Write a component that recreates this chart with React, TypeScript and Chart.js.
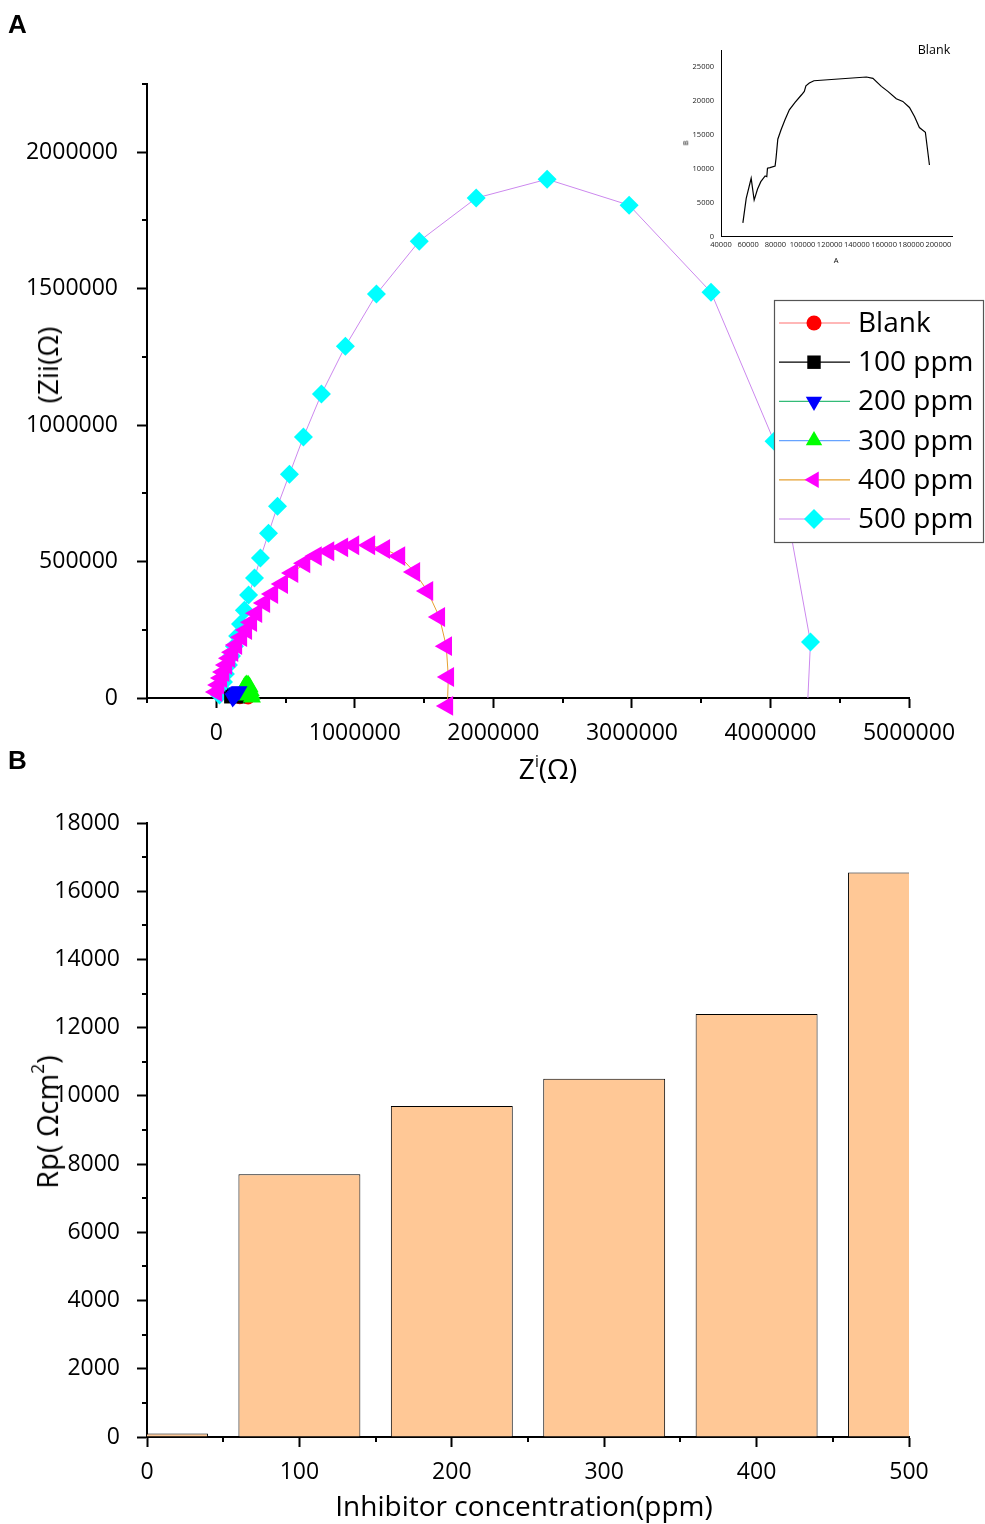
import React, { useEffect, useRef } from 'react';
import { Chart, registerables } from 'chart.js';

Chart.register(...registerables);

const FONT = "'Open Sans', 'DejaVu Sans', sans-serif";

// ---------------- Panel A: Nyquist data (Z' , Z'') ----------------
const seriesNames = ['Blank', '100 ppm', '200 ppm', '300 ppm', '400 ppm', '500 ppm'];

const blankRe = [170000, 180000, 195000, 210000, 222000, 230000];
const blankIm = [1000, 5000, 8000, 7000, 3000, 0];

const ppm100Re = [100000, 110000, 122000, 135000, 148000, 158000, 165000];
const ppm100Im = [2000, 8000, 13000, 16000, 14000, 8000, 2000];

const ppm200Re = [118000, 126000, 134000, 142000, 150000, 158000, 166000];
const ppm200Im = [0, 4000, 9000, 15000, 20000, 24000, 26000];

const ppm300Re = [188000, 193000, 200000, 210000, 220000, 230000, 240000, 248000, 254000, 257000];
const ppm300Im = [10000, 25000, 37000, 45000, 48000, 47000, 40000, 27000, 13000, 3000];

const ppm400Re = [1000, 17000, 37000, 52000, 73000, 95000, 117000, 145000, 181000, 217000, 253000, 290000, 347000, 405000, 476000, 550000, 637000, 720000, 810000, 910000, 990000, 1105000, 1213000, 1322000, 1430000, 1524000, 1610000, 1660000, 1675000, 1668000];
const ppm400Im = [22000, 48000, 73000, 95000, 121000, 146000, 168000, 194000, 223000, 249000, 278000, 311000, 348000, 381000, 418000, 458000, 494000, 520000, 538000, 552000, 560000, 560000, 546000, 520000, 462000, 392000, 297000, 190000, 77000, -29000];

const ppm500Re = [23000, 38000, 52000, 66000, 88000, 110000, 131000, 154000, 175000, 203000, 233000, 276000, 319000, 377000, 442000, 528000, 629000, 759000, 932000, 1156000, 1465000, 1876000, 2388000, 2980000, 3571000, 4026000, 4289000, 4270000];
const ppm500Im = [11000, 33000, 59000, 88000, 121000, 154000, 190000, 227000, 271000, 322000, 377000, 440000, 513000, 604000, 703000, 820000, 956000, 1114000, 1289000, 1480000, 1674000, 1832000, 1901000, 1806000, 1487000, 941000, 205000, 0];

const aXTicks = [0, 1000000, 2000000, 3000000, 4000000, 5000000];
const aXLabels = ['0', '1000000', '2000000', '3000000', '4000000', '5000000'];
const aXMinor = [-500000, 500000, 1500000, 2500000, 3500000, 4500000];
const aYTicks = [0, 500000, 1000000, 1500000, 2000000];
const aYLabels = ['0', '500000', '1000000', '1500000', '2000000'];
const aYMinor = [250000, 750000, 1250000, 1750000, 2250000];

// ---------------- Inset (Blank) ----------------
const insetA = [56100, 58560, 62200, 64400, 66900, 69300, 72500, 73700, 74200, 76100, 79800, 80500, 81800, 84200, 87100, 90300, 94500, 99300, 101300, 102500, 105000, 108400, 147000, 151800, 158000, 162800, 169000, 173800, 178700, 182400, 186000, 190400, 193400];
const insetB = [2020, 5620, 8580, 5370, 7000, 8085, 8920, 8820, 10060, 10150, 10400, 11540, 14350, 15730, 17200, 18680, 19770, 20900, 21400, 22230, 22630, 22970, 23520, 23320, 22140, 21400, 20310, 19920, 19030, 17700, 16070, 15380, 10550];
const insetXTicks = [40000, 60000, 80000, 100000, 120000, 140000, 160000, 180000, 200000];
const insetYTicks = [0, 5000, 10000, 15000, 20000, 25000];

// ---------------- Panel B: Rp bars ----------------
const concCategories = [0, 100, 200, 300, 400, 500];
const rpValues = [100, 7700, 9700, 10500, 12400, 16550];
const bXTicks = [0, 100, 200, 300, 400, 500];
const bXMinor = [50, 150, 250, 350, 450];
const bYTicks = [0, 2000, 4000, 6000, 8000, 10000, 12000, 14000, 16000, 18000];
const bYMinor = [1000, 3000, 5000, 7000, 9000, 11000, 13000, 15000, 17000];

// ---------------- styles ----------------
const seriesStyles = [
  { marker: '#ff0000', line: '#ff7070', style: 'circle', rot: 0, r: 6.5, lr: 7.5, order: 4 },
  { marker: '#000000', line: '#000000', style: 'rect', rot: 0, r: 8.5, lr: 9.5, order: 3 },
  { marker: '#0000ff', line: '#33bb77', style: 'triangle', rot: 180, r: 9.5, lr: 9.5, order: 1 },
  { marker: '#00ff00', line: '#66a3ff', style: 'triangle', rot: 0, r: 10.5, lr: 9.5, order: 2 },
  { marker: '#ff00ff', line: '#e6a030', style: 'triangle', rot: 270, r: 11.5, lr: 9.5, order: 5 },
  { marker: '#00ffff', line: '#cc88ee', style: 'rectRot', rot: 0, r: 9.5, lr: 10, order: 6 },
];

function drawMarker(ctx: CanvasRenderingContext2D, style: string, x: number, y: number, r: number, rot: number, fill: string) {
  ctx.save();
  ctx.translate(x, y);
  ctx.rotate((rot * Math.PI) / 180);
  ctx.beginPath();
  if (style === 'circle') {
    ctx.arc(0, 0, r, 0, Math.PI * 2);
  } else if (style === 'rect') {
    const s = r * Math.SQRT1_2;
    ctx.rect(-s, -s, 2 * s, 2 * s);
  } else if (style === 'triangle') {
    ctx.moveTo(0, -r);
    ctx.lineTo(r * Math.sin((2 * Math.PI) / 3), -r * Math.cos((2 * Math.PI) / 3));
    ctx.lineTo(r * Math.sin((4 * Math.PI) / 3), -r * Math.cos((4 * Math.PI) / 3));
  } else {
    ctx.moveTo(-r, 0);
    ctx.lineTo(0, -r);
    ctx.lineTo(r, 0);
    ctx.lineTo(0, r);
  }
  ctx.closePath();
  ctx.fillStyle = fill;
  ctx.fill();
  ctx.restore();
}

function minorTicks(id: string, xMinor: number[], yMinor: number[], len: number) {
  return {
    id,
    afterDraw(chart: any) {
      const ctx = chart.ctx as CanvasRenderingContext2D;
      const { left, bottom } = chart.chartArea;
      ctx.save();
      ctx.strokeStyle = '#000';
      ctx.lineWidth = 2;
      ctx.beginPath();
      xMinor.forEach((v) => {
        const px = Math.round(chart.scales.x.getPixelForValue(v));
        ctx.moveTo(px, bottom);
        ctx.lineTo(px, bottom + len);
      });
      yMinor.forEach((v) => {
        const py = Math.round(chart.scales.y.getPixelForValue(v));
        ctx.moveTo(left, py);
        ctx.lineTo(left - len, py);
      });
      ctx.stroke();
      ctx.restore();
    },
  };
}

const legendBox = { x: 774, y: 300, w: 209, h: 242, row0: 23, rowGap: 39.2 };

const legendPlugin = {
  id: 'nyquistLegend',
  afterDraw(chart: any) {
    const ctx = chart.ctx as CanvasRenderingContext2D;
    const b = legendBox;
    ctx.save();
    ctx.fillStyle = '#fff';
    ctx.fillRect(b.x, b.y, b.w, b.h);
    ctx.strokeStyle = '#555';
    ctx.lineWidth = 1.2;
    ctx.strokeRect(b.x + 0.5, b.y + 0.5, b.w, b.h);
    seriesNames.forEach((name, i) => {
      const st = seriesStyles[i];
      const y = b.y + b.row0 + i * b.rowGap;
      ctx.strokeStyle = st.line;
      ctx.lineWidth = 1.2;
      ctx.beginPath();
      ctx.moveTo(b.x + 5, y);
      ctx.lineTo(b.x + 76, y);
      ctx.stroke();
      drawMarker(ctx, st.style, b.x + 40, y, st.lr, st.rot, st.marker);
      ctx.fillStyle = '#000';
      ctx.font = `28px ${FONT}`;
      ctx.textBaseline = 'middle';
      ctx.textAlign = 'left';
      ctx.fillText(name, b.x + 84, y + 1);
    });
    ctx.restore();
  },
};

function makeSeries(i: number, re: number[], im: number[]) {
  const st = seriesStyles[i];
  return {
    label: seriesNames[i],
    data: re.map((x, k) => ({ x, y: im[k] })),
    borderColor: st.line,
    borderWidth: 1,
    backgroundColor: st.marker,
    pointStyle: st.style,
    pointRotation: st.rot,
    pointRadius: re.map((_x, k) => (i === 5 && k === re.length - 1 ? 0 : st.r)),
    pointBackgroundColor: st.marker,
    pointBorderWidth: 0,
    pointBorderColor: st.marker,
    tension: 0,
    clip: false,
    order: st.order,
  };
}

const tickFont = { family: FONT, size: 23 };

export default function App() {
  const refA = useRef<HTMLCanvasElement>(null);
  const refB = useRef<HTMLCanvasElement>(null);
  const refI = useRef<HTMLCanvasElement>(null);

  useEffect(() => {
    const chartA = new Chart(refA.current as HTMLCanvasElement, {
      type: 'line',
      data: {
        datasets: [
          makeSeries(0, blankRe, blankIm),
          makeSeries(1, ppm100Re, ppm100Im),
          makeSeries(2, ppm200Re, ppm200Im),
          makeSeries(3, ppm300Re, ppm300Im),
          makeSeries(4, ppm400Re, ppm400Im),
          makeSeries(5, ppm500Re, ppm500Im),
        ] as any,
      },
      options: {
        animation: false,
        responsive: false,
        maintainAspectRatio: false,
        layout: { padding: { left: 0, top: 84, right: 76, bottom: 0 } },
        plugins: { legend: { display: false }, tooltip: { enabled: false }, title: { display: false } },
        events: [],
        scales: {
          x: {
            type: 'linear',
            min: -500000,
            max: 5000000,
            afterBuildTicks: (s: any) => { s.ticks = aXTicks.map((v) => ({ value: v })); },
            afterFit: (s: any) => { s.height = 92; },
            grid: { drawOnChartArea: false, drawTicks: true, tickLength: 10, tickWidth: 2, tickColor: '#000', color: '#000' },
            border: { display: true, color: '#000', width: 2 },
            ticks: { autoSkip: false, maxRotation: 0, padding: 12, color: '#000', font: tickFont, callback: (_v: any, i: number) => aXLabels[i] },
          },
          y: {
            type: 'linear',
            min: 0,
            max: 2250000,
            afterBuildTicks: (s: any) => { s.ticks = aYTicks.map((v) => ({ value: v })); },
            afterFit: (s: any) => { s.width = 147; },
            grid: { drawOnChartArea: false, drawTicks: true, tickLength: 10, tickWidth: 2, tickColor: '#000', color: '#000' },
            border: { display: true, color: '#000', width: 2 },
            ticks: { autoSkip: false, padding: 19, color: '#000', font: tickFont, callback: (_v: any, i: number) => aYLabels[i] },
          },
        },
      } as any,
      plugins: [minorTicks('minorA', aXMinor, aYMinor, 5), legendPlugin],
    });

    const chartI = new Chart(refI.current as HTMLCanvasElement, {
      type: 'line',
      data: {
        datasets: [
          {
            label: 'Blank',
            data: insetA.map((x, k) => ({ x, y: insetB[k] })),
            borderColor: '#000',
            borderWidth: 1.2,
            pointRadius: 0,
            tension: 0,
          },
        ],
      },
      options: {
        animation: false,
        responsive: false,
        maintainAspectRatio: false,
        layout: { padding: { left: 0, top: 15, right: 18, bottom: 0 } },
        plugins: { legend: { display: false }, tooltip: { enabled: false } },
        events: [],
        scales: {
          x: {
            type: 'linear',
            min: 40000,
            max: 210000,
            afterBuildTicks: (s: any) => { s.ticks = insetXTicks.map((v) => ({ value: v })); },
            afterFit: (s: any) => { s.height = 38.5; },
            grid: { display: false, drawTicks: false },
            border: { display: true, color: '#000', width: 1 },
            ticks: { autoSkip: false, maxRotation: 0, padding: 4, color: '#222', font: { family: FONT, size: 7.5 }, callback: (v: any) => String(v) },
          },
          y: {
            type: 'linear',
            min: 0,
            max: 27500,
            afterBuildTicks: (s: any) => { s.ticks = insetYTicks.map((v) => ({ value: v })); },
            afterFit: (s: any) => { s.width = 61; },
            grid: { display: false, drawTicks: false },
            border: { display: true, color: '#000', width: 1 },
            ticks: { autoSkip: false, padding: 7, color: '#222', font: { family: FONT, size: 7.5 }, callback: (v: any) => String(v) },
          },
        },
      } as any,
    });

    const chartB = new Chart(refB.current as HTMLCanvasElement, {
      type: 'bar',
      data: {
        datasets: [
          {
            label: 'Rp',
            data: concCategories.map((x, k) => ({ x, y: rpValues[k] })),
            backgroundColor: '#ffc896',
            borderColor: '#000',
            borderWidth: 1,
            barPercentage: 0.8,
            categoryPercentage: 1,
          },
        ] as any,
      },
      options: {
        animation: false,
        responsive: false,
        maintainAspectRatio: false,
        layout: { padding: { left: 0, top: 33, right: 76, bottom: 0 } },
        plugins: { legend: { display: false }, tooltip: { enabled: false } },
        events: [],
        scales: {
          x: {
            type: 'linear',
            min: 0,
            max: 500,
            offset: false,
            afterBuildTicks: (s: any) => { s.ticks = bXTicks.map((v) => ({ value: v })); },
            afterFit: (s: any) => { s.height = 87; },
            grid: { offset: false, drawOnChartArea: false, drawTicks: true, tickLength: 10, tickWidth: 2, tickColor: '#000', color: '#000' },
            border: { display: true, color: '#000', width: 2 },
            ticks: { autoSkip: false, maxRotation: 0, padding: 12, color: '#000', font: tickFont, callback: (v: any) => String(v) },
          },
          y: {
            type: 'linear',
            min: 0,
            max: 18000,
            afterBuildTicks: (s: any) => { s.ticks = bYTicks.map((v) => ({ value: v })); },
            afterFit: (s: any) => { s.width = 147; },
            grid: { drawOnChartArea: false, drawTicks: true, tickLength: 10, tickWidth: 2, tickColor: '#000', color: '#000' },
            border: { display: true, color: '#000', width: 2 },
            ticks: { autoSkip: false, padding: 17, color: '#000', font: tickFont, callback: (v: any) => String(v) },
          },
        },
      } as any,
      plugins: [minorTicks('minorB', bXMinor, bYMinor, 5)],
    });

    return () => {
      chartA.destroy();
      chartI.destroy();
      chartB.destroy();
    };
  }, []);

  const text = (cx: number, cy: number, size: number, content: React.ReactNode, rotate = false, extra: React.CSSProperties = {}) => (
    <div
      style={{
        position: 'absolute',
        left: cx,
        top: cy,
        transform: `translate(-50%, -50%)${rotate ? ' rotate(-90deg)' : ''}`,
        fontSize: size,
        lineHeight: 1,
        whiteSpace: 'nowrap',
        fontFamily: FONT,
        color: '#000',
        ...extra,
      }}
    >
      {content}
    </div>
  );

  return (
    <div style={{ position: 'absolute', left: 0, top: 0, width: 985, height: 1524, background: '#fff', overflow: 'hidden' }}>
      <canvas ref={refA} width={985} height={790} style={{ position: 'absolute', left: 0, top: 0 }} />
      <canvas ref={refB} width={985} height={734} style={{ position: 'absolute', left: 0, top: 790 }} />
      <canvas ref={refI} width={310} height={240} style={{ position: 'absolute', left: 660, top: 35 }} />
      {text(17.5, 24, 26, 'A', false, { fontWeight: 700, fontFamily: "'Liberation Sans', Arial, sans-serif" })}
      {text(17.5, 760, 26, 'B', false, { fontWeight: 700, fontFamily: "'Liberation Sans', Arial, sans-serif" })}
      {text(548, 768, 28, <span>Z<sup style={{ fontSize: '0.55em', verticalAlign: '0.75em' }}>i</sup>(Ω)</span>)}
      {text(47, 365, 28, '(Zii(Ω)', true)}
      {text(524, 1505, 28, 'Inhibitor concentration(ppm)')}
      {text(45, 1122, 29, <span>Rp( Ωcm<sup style={{ fontSize: '0.6em', verticalAlign: '0.8em' }}>2</sup>)</span>, true)}
      {text(934, 50, 12.5, 'Blank')}
      {text(686, 143, 7.5, 'B', true)}
      {text(836, 261, 7.5, 'A')}
    </div>
  );
}
